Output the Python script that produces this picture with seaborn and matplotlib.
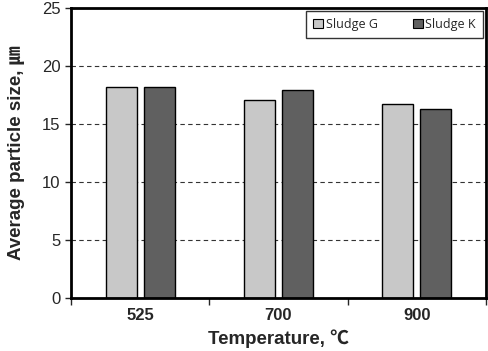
import numpy as np
import pandas as pd
import matplotlib
matplotlib.use("Agg")
import matplotlib.pyplot as plt
import seaborn as sns
from matplotlib.patches import Patch

temps = ["525", "700", "900"]
sludge_g = [18.2, 17.1, 16.7]
sludge_k = [18.2, 17.9, 16.3]
series = ["Sludge G", "Sludge K"]
colors = ["#C8C8C8", "#606060"]

df = pd.DataFrame({
    "Temperature": temps * 2,
    "size": sludge_g + sludge_k,
    "Sludge": [series[0]] * 3 + [series[1]] * 3,
})

sns.set_style("white")
plt.rcParams["font.family"] = ["Liberation Sans", "Noto Sans CJK KR", "DejaVu Sans"]

fig = plt.figure(figsize=(4.89, 3.51), dpi=100)
ax = fig.add_axes([0.145, 0.151, 0.849, 0.826])

ax.yaxis.grid(True, linestyle=(0, (4, 3)), color="#333333", linewidth=0.8)
ax.set_axisbelow(True)

sns.barplot(data=df, x="Temperature", y="size", hue="Sludge",
            palette=colors, width=0.55, gap=0.185,
            edgecolor="black", linewidth=1.0, ax=ax, legend=False)

ax.set_xlim(-0.5, 2.5)
ax.set_ylim(0, 25)
ax.set_yticks([0, 5, 10, 15, 20, 25])
ax.tick_params(axis="y", labelsize=12, length=4, width=1, direction="out", left=True)
ax.tick_params(axis="x", which="major", length=0, labelsize=12, pad=7)
ax.set_xticks([-0.5, 0.5, 1.5, 2.5], minor=True)
ax.tick_params(axis="x", which="minor", length=5, width=1, direction="out", bottom=True)
for lbl in ax.get_xticklabels():
    lbl.set_fontweight("bold")

for s in ax.spines.values():
    s.set_visible(True)
    s.set_color("black")
    s.set_linewidth(2)

ax.set_xlabel("Temperature, \u2103", fontsize=13.5, fontweight="bold", labelpad=5)
ax.set_ylabel("Average particle size, \u339b", fontsize=13.5, fontweight="bold", labelpad=12)

handles = [Patch(facecolor=c, edgecolor="black", linewidth=0.8) for c in colors]
leg = ax.legend(handles, series, loc="upper right", ncol=2,
                frameon=True, fancybox=False, edgecolor="black",
                handlelength=0.8, handleheight=0.8, handletextpad=0.2,
                columnspacing=2.8, borderpad=0.55, borderaxespad=0,
                bbox_to_anchor=(0.992, 0.99),
                prop={"family": ["Open Sans", "DejaVu Sans"], "size": 9})
leg.get_frame().set_linewidth(1.0)

fig.savefig("out.png", dpi=100)
